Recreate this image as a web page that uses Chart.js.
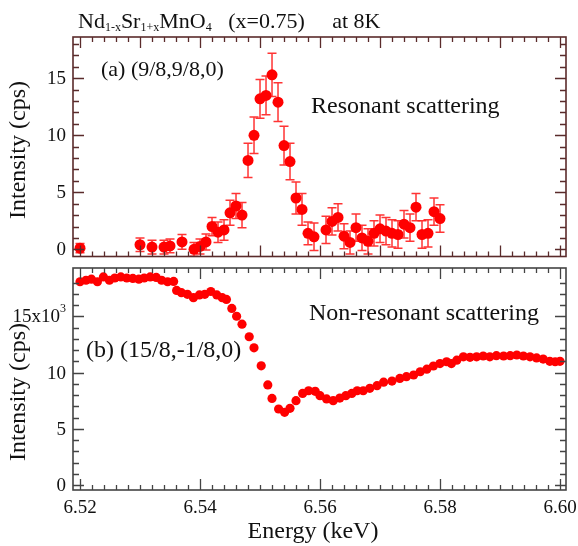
<!DOCTYPE html>
<html><head><meta charset="utf-8">
<script src="https://cdn.jsdelivr.net/npm/chart.js@4/dist/chart.umd.min.js"></script>
<style>
html,body{margin:0;padding:0;background:#fff;}
#wrap{position:relative;width:578px;height:546px;overflow:hidden;background:#fff;}
canvas{position:absolute;left:0;}
</style></head><body>
<div id="wrap">
<canvas id="c1" width="578" height="262" style="top:0px"></canvas>
<canvas id="c2" width="578" height="284" style="top:262px"></canvas>
</div>
<script>
// ---- Panel (a): resonant scattering, Intensity (cps) ----
const energyA = [6.520,6.530,6.532,6.534,6.535,6.537,6.539,6.540,6.541,6.542,6.543,6.544,6.545,6.546,6.547,6.548,6.549,6.550,6.551,6.552,6.553,6.554,6.555,6.556,6.557,6.558,6.559,6.561,6.562,6.563,6.564,6.565,6.566,6.567,6.568,6.569,6.570,6.571,6.572,6.573,6.574,6.575,6.576,6.577,6.578,6.579,6.580];
const intensityA = [0.1,0.4,0.2,0.2,0.3,0.65,0.0,0.25,0.65,2.0,1.5,1.7,3.2,3.8,3.0,7.8,10.0,13.2,13.5,15.3,12.9,9.1,7.7,4.5,3.5,1.4,1.1,1.7,2.45,2.8,1.15,0.6,1.9,1.0,0.7,1.4,1.8,1.6,1.4,1.3,2.2,1.9,3.7,1.3,1.4,3.3,2.7];
const errorA = [0.4,0.6,0.6,0.6,0.6,0.65,0.6,0.65,0.7,0.8,0.9,0.9,1.1,1.1,1.1,1.5,1.6,1.7,1.7,1.9,1.7,1.7,1.6,1.4,1.4,1.0,1.2,1.2,1.2,1.2,1.1,1.0,1.2,1.1,1.1,1.1,1.2,1.2,1.2,1.2,1.2,1.2,1.2,1.2,1.2,1.2,1.2];

// ---- Panel (b): non-resonant scattering, Intensity (10^3 cps) ----
const energyB = [6.5200,6.5210,6.5219,6.5229,6.5239,6.5249,6.5258,6.5268,6.5278,6.5288,6.5298,6.5307,6.5317,6.5327,6.5336,6.5346,6.5356,6.5361,6.5369,6.5379,6.5389,6.5399,6.5408,6.5418,6.5428,6.5437,6.5444,6.5453,6.5461,6.5470,6.5482,6.5490,6.5502,6.5513,6.5520,6.5531,6.5541,6.5550,6.5560,6.5571,6.5581,6.5592,6.5600,6.5611,6.5622,6.5633,6.5643,6.5653,6.5662,6.5672,6.5683,6.5695,6.5706,6.5720,6.5733,6.5744,6.5756,6.5767,6.5778,6.5789,6.5800,6.5811,6.5819,6.5828,6.5839,6.5850,6.5861,6.5872,6.5883,6.5894,6.5906,6.5917,6.5928,6.5939,6.5950,6.5961,6.5972,6.5983,6.5992,6.6000];
const intensityB = [18.07,18.2,18.3,18.07,18.5,18.2,18.4,18.5,18.4,18.36,18.3,18.4,18.5,18.45,18.2,18.07,18.1,17.3,17.1,16.95,16.65,16.9,16.95,17.2,16.9,16.65,16.5,15.7,15.0,14.3,13.18,12.2,10.6,8.9,7.7,6.76,6.46,6.82,7.5,8.14,8.38,8.33,7.94,7.65,7.5,7.73,7.94,8.14,8.38,8.38,8.6,8.83,9.14,9.24,9.48,9.63,9.78,10.07,10.3,10.58,10.8,10.96,10.8,11.1,11.4,11.35,11.4,11.47,11.4,11.5,11.47,11.5,11.56,11.47,11.4,11.3,11.2,11.0,10.96,11.0];

// ---- tick labels ----
const xTickValues = [6.52,6.54,6.56,6.58,6.60];
const xTickLabels = ['6.52','6.54','6.56','6.58','6.60'];
const yTickValuesA = [0,5,10,15];
const yTickLabelsA = ['0','5','10','15'];
const yTickValuesB = [0,5,10,15];
const yTickLabelsB = ['0','5','10','15x10'];
const yTickSupB = ['','','','3'];

const SERIF = '"Liberation Serif","Times New Roman",serif';
const RED = '#ff0000';

function framePlugin(id, opts){
  return {
    id: id,
    beforeDatasetsDraw(chart){
      if(!opts.errors) return;
      const {ctx, scales:{x,y}} = chart;
      ctx.save();
      ctx.strokeStyle = 'rgba(255,30,30,0.9)';
      ctx.lineWidth = 1.5;
      for(let i=0;i<energyA.length;i++){
        const px = x.getPixelForValue(energyA[i]);
        const yt = y.getPixelForValue(intensityA[i]+errorA[i]);
        const yb = y.getPixelForValue(intensityA[i]-errorA[i]);
        ctx.beginPath();
        ctx.moveTo(px,yt); ctx.lineTo(px,yb);
        ctx.moveTo(px-4.5,yt); ctx.lineTo(px+4.5,yt);
        ctx.moveTo(px-4.5,yb); ctx.lineTo(px+4.5,yb);
        ctx.stroke();
      }
      ctx.restore();
    },
    afterDraw(chart){
      const {ctx, chartArea:a, scales:{x,y}} = chart;
      ctx.save();
      ctx.strokeStyle = opts.frameColor;
      ctx.lineWidth = 1.3;
      // x ticks (every 0.002)
      for(let i=0;i<=40;i++){
        const v = 6.52 + i*0.002;
        const px = Math.round(x.getPixelForValue(v))+0.5;
        const major = (i % opts.xMajorEvery === 0);
        const L = major ? 11 : 5;
        ctx.beginPath();
        ctx.moveTo(px,a.bottom); ctx.lineTo(px,a.bottom-L);
        ctx.moveTo(px,a.top); ctx.lineTo(px,a.top+L);
        ctx.stroke();
      }
      // y ticks (every 1)
      for(let v=0; v<=18; v++){
        const py = Math.round(y.getPixelForValue(v))+0.5;
        if(py < a.top+1) continue;
        const major = (v % 5 === 0);
        const L = major ? 11 : 6;
        ctx.beginPath();
        ctx.moveTo(a.left,py); ctx.lineTo(a.left+L,py);
        ctx.moveTo(a.right,py); ctx.lineTo(a.right-L,py);
        ctx.stroke();
      }
      ctx.lineWidth = 1.6;
      ctx.strokeRect(a.left, a.top, a.right-a.left, a.bottom-a.top);
      // y tick labels
      ctx.fillStyle = '#111';
      ctx.textBaseline = 'middle';
      ctx.textAlign = 'right';
      for(let i=0;i<opts.yTickValues.length;i++){
        const py = y.getPixelForValue(opts.yTickValues[i]);
        let rx = a.left - 7;
        const sup = opts.yTickSup ? opts.yTickSup[i] : '';
        if(sup){
          ctx.font = '12px '+SERIF;
          ctx.fillText(sup, rx, py-7);
          rx -= ctx.measureText(sup).width;
        }
        ctx.font = '19px '+SERIF;
        ctx.fillText(opts.yTickLabels[i], rx, py+1);
      }
      // y axis title
      ctx.save();
      ctx.translate(25, opts.yTitleY);
      ctx.rotate(-Math.PI/2);
      ctx.textAlign = 'center';
      ctx.textBaseline = 'alphabetic';
      ctx.font = '24px '+SERIF;
      ctx.fillText('Intensity (cps)', 0, 0);
      ctx.restore();
      // annotations
      ctx.textAlign = 'left';
      ctx.textBaseline = 'alphabetic';
      for(const t of opts.texts){
        ctx.font = t.size+'px '+SERIF;
        ctx.fillText(t.s, t.x, t.y);
      }
      if(opts.xLabels){
        ctx.textAlign = 'center';
        ctx.font = '19px '+SERIF;
        for(let i=0;i<xTickValues.length;i++){
          ctx.fillText(xTickLabels[i], x.getPixelForValue(xTickValues[i]), 251);
        }
        ctx.font = '24px '+SERIF;
        ctx.fillText('Energy (keV)', 313, 276);
      }
      if(opts.title){
        let cx = 78; const by = 28;
        const segs = [['Nd',22,0],['1-x',12,3],['Sr',22,0],['1+x',12,3],['MnO',22,0],['4',12,3],['   (x=0.75)',22,0],['     at 8K',22,0]];
        ctx.textAlign='left';
        for(const s of segs){
          ctx.font = s[1]+'px '+SERIF;
          ctx.fillText(s[0], cx, by+s[2]);
          cx += ctx.measureText(s[0]).width;
        }
      }
      ctx.restore();
    }
  };
}

function makeChart(id, data, ymin, ymax, padding, radius, plugin){
  return new Chart(document.getElementById(id), {
    type: 'scatter',
    data: { datasets: [{ data: data, pointRadius: radius, pointHoverRadius: radius,
      backgroundColor: RED, borderColor: RED, borderWidth: 0, showLine: false }] },
    options: {
      responsive: false, animation: false, devicePixelRatio: 1,
      layout: { padding: padding },
      plugins: { legend: {display:false}, tooltip: {enabled:false} },
      scales: {
        x: { type:'linear', min: 6.51883, max: 6.60100, display: false },
        y: { type:'linear', min: ymin, max: ymax, display: false }
      }
    },
    plugins: [plugin]
  });
}

const dataA = energyA.map((e,i)=>({x:e, y:intensityA[i]}));
const dataB = energyB.map((e,i)=>({x:e, y:intensityB[i]}));

makeChart('c1', dataA, -0.63, 18.62, {left:73, right:12, top:37, bottom:3}, 5.5,
  framePlugin('fa', {frameColor:'#5a2b2b', xMajorEvery:5, errors:true,
    yTickValues:yTickValuesA, yTickLabels:yTickLabelsA, yTitleY:150,
    texts:[{s:'(a) (9/8,9/8,0)', x:101, y:76, size:22},{s:'Resonant scattering', x:311, y:113, size:24}],
    title:true}));

makeChart('c2', dataB, -0.44, 19.29, {left:73, right:12, top:6, bottom:56}, 4.6,
  framePlugin('fb', {frameColor:'#444', xMajorEvery:10, errors:false,
    yTickValues:yTickValuesB, yTickLabels:yTickLabelsB, yTickSup:yTickSupB, yTitleY:130,
    texts:[{s:'Non-resonant scattering', x:309, y:58, size:24},{s:'(b) (15/8,-1/8,0)', x:86, y:95, size:24}],
    xLabels:true}));
</script>
</body></html>
